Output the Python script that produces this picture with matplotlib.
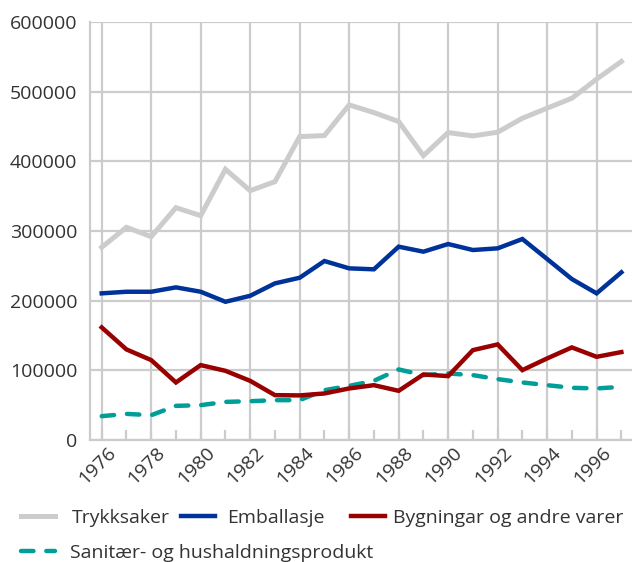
import matplotlib
matplotlib.use("Agg")
import matplotlib.pyplot as plt
from matplotlib.ticker import FixedLocator, NullFormatter
from matplotlib.transforms import ScaledTranslation

years = list(range(1976, 1998))
trykksaker = [276600, 305300, 291900, 333500, 322000, 388600, 357900, 370800, 435500, 437000,
              481000, 470000, 457100, 408200, 441300, 436500, 441800, 461900, 476300, 490600,
              518000, 543300]
emballasje = [210500, 212800, 212800, 219100, 212800, 198400, 207000, 224800, 232900, 256900,
              246400, 245000, 277500, 270300, 281300, 272700, 275100, 288500, 259800, 231000,
              210500, 240700]
bygningar = [161600, 130000, 114700, 82600, 107500, 99300, 84900, 64400, 64000, 66800,
             74000, 78700, 70600, 94100, 91700, 129000, 137200, 100300, 117100, 132900,
             119400, 126200]
sanitar = [34200, 37500, 35600, 49000, 50000, 54700, 55700, 57200, 57200, 71500,
           77700, 84900, 101300, 93100, 95500, 93100, 87400, 82600, 78700, 74900,
           74000, 76300]
labels = ["Trykksaker", "Emballasje", "Bygningar og andre varer", "Sanitær- og hushaldningsprodukt"]
colors = ["#cccccc", "#003399", "#990000", "#009e99"]
yticks = [0, 100000, 200000, 300000, 400000, 500000, 600000]
xlabel_years = years[::2]

plt.rcParams['font.family'] = ['Open Sans', 'DejaVu Sans']
TXT = "#333333"
GRID = "#cccccc"
FS = 14
FSL = 14
DPI = 100

fig = plt.figure(figsize=(6.32, 5.62), dpi=DPI)
ax = fig.add_axes([90/632, 122/562, 542/632, 418/562])

l1, = ax.plot(years, trykksaker, color=colors[0], lw=3.6, solid_joinstyle='miter', zorder=3)
l2, = ax.plot(years, emballasje, color=colors[1], lw=3.2, solid_joinstyle='miter', zorder=4)
l3, = ax.plot(years, bygningar, color=colors[2], lw=3.2, solid_joinstyle='miter', zorder=5)
l4, = ax.plot(years, sanitar, color=colors[3], lw=3.2, linestyle=(0, (2.8, 2.9)),
              dash_capstyle='round', zorder=4.5)

ax.set_xlim(1975.527, 1997.43)
ax.set_ylim(0, 600000)
ax.yaxis.set_major_locator(FixedLocator(yticks))
ax.set_yticklabels([str(v) for v in yticks])
ax.xaxis.set_major_locator(FixedLocator(xlabel_years))
ax.xaxis.set_minor_locator(FixedLocator(years))
ax.xaxis.set_major_formatter(NullFormatter())

ax.grid(True, which='major', color=GRID, lw=1.6, zorder=0)
ax.set_axisbelow(True)
for s in ['top', 'right']:
    ax.spines[s].set_visible(False)
for s in ['left', 'bottom']:
    ax.spines[s].set_color(GRID)
    ax.spines[s].set_linewidth(1.6)

ax.tick_params(axis='y', length=0, pad=9, labelsize=FS, labelcolor=TXT)
ax.tick_params(axis='x', which='both', direction='in', length=7, width=1.6, color=GRID)

# rotated year labels
off = ScaledTranslation(5/DPI, -4/DPI, fig.dpi_scale_trans)
for yr in xlabel_years:
    ax.text(yr, 0, str(yr), transform=ax.get_xaxis_transform() + off,
            rotation=45, ha='right', va='top', rotation_mode='anchor',
            fontsize=FS, color=TXT, clip_on=False)

handles = [l1, l2, l3, l4]
pos = [(20.7, 518), (181, 518), (351, 518), (20.7, 553)]
pads = [16.5, 12, 8, 15]
for h, lab, (px, py), pd in zip(handles, labels, pos, pads):
    fig.legend([h], [lab], loc='center left',
               bbox_to_anchor=(px/632, 1 - py/562), bbox_transform=fig.transFigure,
               frameon=False, fontsize=FSL, handlelength=24.7/FSL, handletextpad=pd*0.72/FSL,
               borderpad=0, borderaxespad=0, labelcolor=TXT)

fig.savefig("out.png", dpi=DPI)
